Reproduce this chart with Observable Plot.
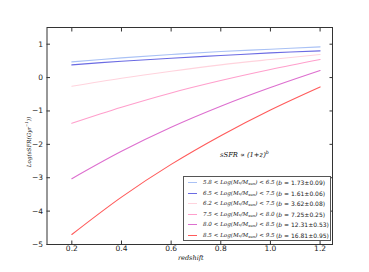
<!DOCTYPE html>
<html><head><meta charset="utf-8">
<script src="https://cdn.jsdelivr.net/npm/d3@7"></script>
<script src="https://cdn.jsdelivr.net/npm/@observablehq/plot@0.6"></script>
<style>
body{margin:0;background:#fff}
#wrap{position:relative;width:369px;height:272px;font-family:"DejaVu Sans",sans-serif}
.math{font-family:"DejaVu Serif",serif;font-style:italic;color:#111;white-space:nowrap;position:absolute}
#legend{position:absolute;left:183px;top:176px;width:148px;height:65px;border:1px solid #555;background:#fff;box-sizing:border-box}
.row{position:absolute;left:0;height:11px;width:100%;font-size:5.6px;line-height:11px;white-space:nowrap}
.sw{position:absolute;left:4px;top:5px;width:9px;height:0;border-top:1.5px solid}
.lt{position:absolute;left:19px;font-family:"DejaVu Serif",serif;font-style:italic;color:#222}
.rt{position:absolute;left:92px;font-family:"DejaVu Sans",sans-serif;color:#222;font-size:6px}
sub{font-size:70%;vertical-align:-1px;line-height:0}
sup{font-size:70%;vertical-align:3px;line-height:0}
</style></head>
<body><div id="wrap"></div>
<script>
const redshift = [0.2, 0.4, 0.6, 0.8, 1.0, 1.2];
const seriesNames = ["5.8-6.5", "6.5-7.5", "6.2-7.5", "7.5-8.0", "8.0-8.5", "8.5-9.5"];
const massLow = ["5.8", "6.5", "6.2", "7.5", "8.0", "8.5"];
const massHigh = ["6.5", "7.5", "7.5", "8.0", "8.5", "9.5"];
const slopes = ["1.73\u00b10.09", "1.61\u00b10.06", "3.62\u00b10.08", "7.25\u00b10.25", "12.31\u00b10.53", "16.81\u00b10.95"];
const colors = ["#a9c1f5", "#6b6be3", "#ffd3dd", "#ff9fcc", "#dd6fcf", "#ff5b5b"];
const s1 = [0.47, 0.59, 0.69, 0.78, 0.85, 0.92];
const s2 = [0.38, 0.49, 0.58, 0.66, 0.74, 0.80];
const s3 = [-0.26, -0.02, 0.19, 0.38, 0.54, 0.69];
const s4 = [-1.37, -0.89, -0.46, -0.09, 0.24, 0.54];
const s5 = [-3.03, -2.21, -1.49, -0.86, -0.30, 0.21];
const s6 = [-4.70, -3.58, -2.60, -1.74, -0.97, -0.28];
const xTicks = [0.2, 0.4, 0.6, 0.8, 1.0, 1.2];
const yTicks = [-5, -4, -3, -2, -1, 0, 1];

const allSeries = [s1, s2, s3, s4, s5, s6];
const data = allSeries.flatMap((s, i) => s.map((v, j) => ({z: redshift[j], v, series: seriesNames[i]})));

const tickStyle = {fontSize: 7.5, fontFamily: "DejaVu Sans, sans-serif"};
const chart = Plot.plot({
  width: 369, height: 272,
  marginLeft: 46.5, marginRight: 37, marginTop: 27, marginBottom: 28,
  style: {background: "#fff", color: "#222", fontFamily: "DejaVu Sans, sans-serif"},
  x: {domain: [0.1, 1.25]},
  y: {domain: [-5, 1.5]},
  color: {domain: seriesNames, range: colors},
  marks: [
    Plot.line(data, {x: "z", y: "v", stroke: "series", strokeWidth: 1.1, curve: "catmull-rom"}),
    Plot.axisX(xTicks, {anchor: "bottom", tickSize: 0, tickPadding: 1.5, label: null, tickFormat: d3.format(".1f"), ...tickStyle}),
    Plot.axisX(xTicks, {anchor: "bottom", tickSize: -3.5, text: null, label: null, stroke: "#333"}),
    Plot.axisX(xTicks, {anchor: "top", tickSize: -3.5, text: null, label: null, stroke: "#333"}),
    Plot.axisY(yTicks, {anchor: "left", tickSize: 0, tickPadding: 4, label: null, ...tickStyle}),
    Plot.axisY(yTicks, {anchor: "left", tickSize: -3.5, text: null, label: null, stroke: "#333"}),
    Plot.axisY(yTicks, {anchor: "right", tickSize: -3.5, text: null, label: null, stroke: "#333"}),
    Plot.frame({stroke: "#333", strokeWidth: 1})
  ]
});
const wrap = document.getElementById("wrap");
wrap.appendChild(chart);

// axis labels
const xl = document.createElement("div");
xl.className = "math";
xl.style.cssText += "left:178px;top:254px;font-size:6.5px;";
xl.textContent = "redshift";
wrap.appendChild(xl);

const yl = document.createElement("div");
yl.className = "math";
yl.style.cssText += "left:29px;top:142px;font-size:5.6px;transform:translate(-50%,-50%) rotate(-90deg);";
yl.innerHTML = "Log(sSFR(Gyr<sup>\u22121</sup>))";
wrap.appendChild(yl);

const ann = document.createElement("div");
ann.className = "math";
ann.style.cssText += "left:220px;top:151px;font-size:6.8px;";
ann.innerHTML = "sSFR \u221d (1+z)<sup>b</sup>";
wrap.appendChild(ann);

// legend
const lg = document.createElement("div");
lg.id = "legend";
seriesNames.forEach((name, i) => {
  const r = document.createElement("div");
  r.className = "row";
  r.style.top = Math.round(i * 10.6) + "px";
  r.innerHTML = `<div class="sw" style="border-color:${colors[i]}"></div>` +
    `<span class="lt">${massLow[i]} &lt; Log(M<sub>*</sub>/M<sub>sun</sub>) &lt; ${massHigh[i]}</span>` +
    `<span class="rt">(<i>b</i> = ${slopes[i]})</span>`;
  lg.appendChild(r);
});
wrap.appendChild(lg);
</script></body></html>
